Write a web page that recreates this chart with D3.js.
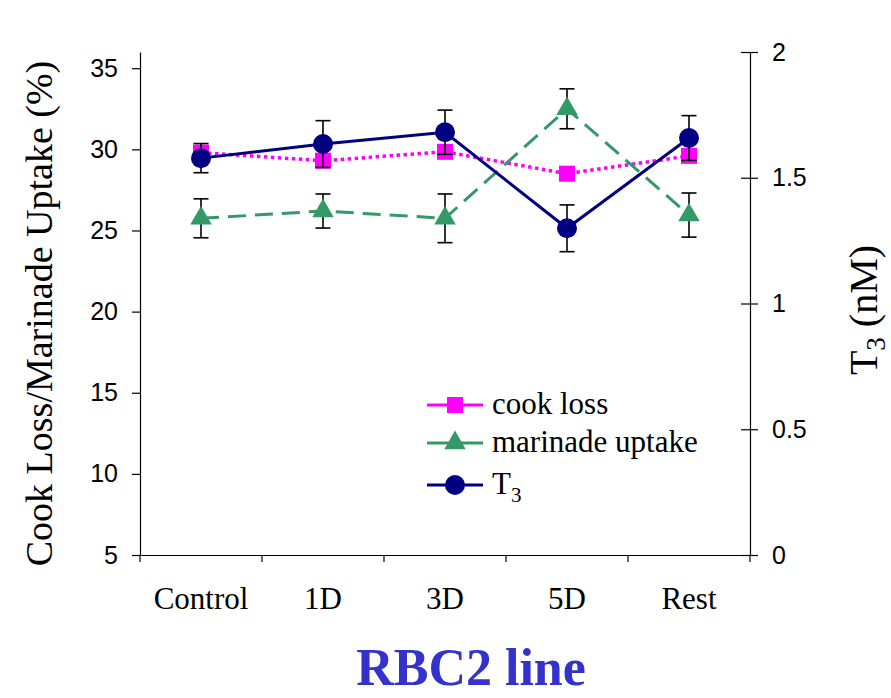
<!DOCTYPE html>
<html>
<head>
<meta charset="utf-8">
<script src="https://cdn.jsdelivr.net/npm/d3@7"></script>
<style>
  body { margin: 0; background: #fff; }
  svg { display: block; }
</style>
</head>
<body>
<svg id="chart"></svg>
<script>
// values
const categories = ['Control', '1D', '3D', '5D', 'Rest'];
const cookLoss = [29.8, 29.3, 29.85, 28.5, 29.6];
const marinade = [25.75, 26.2, 25.75, 32.5, 25.95];
const marinadeErr = [1.2, 1.05, 1.5, 1.23, 1.36];
const t3 = [1.578, 1.634, 1.681, 1.299, 1.658];
const t3Err = [0.058, 0.093, 0.088, 0.093, 0.089];
const leftTicks = [5, 10, 15, 20, 25, 30, 35];
const rightTicks = [0, 0.5, 1, 1.5, 2];

const width = 891, height = 698;
const margin = {top: 52, right: 141, bottom: 143, left: 140};

const svg = d3.select('#chart')
    .attr('width', width)
    .attr('height', height);

const innerW = width - margin.left - margin.right;
const innerH = height - margin.top - margin.bottom;

const chart = svg.append('g')
    .attr('transform', `translate(${margin.left}, ${margin.top})`);

const xscale = d3.scaleBand()
    .domain(categories)
    .range([0, innerW]);

const yleft = d3.scaleLinear()
    .domain([5, 36])
    .range([innerH, 0]);

const yright = d3.scaleLinear()
    .domain([0, 2])
    .range([innerH, 0]);

const cx = d => xscale(d) + xscale.bandwidth() / 2;

// axes
const leftAxis = chart.append('g')
    .call(d3.axisLeft(yleft).tickValues(leftTicks).tickSize(8).tickSizeOuter(0).tickPadding(14));

const rightAxis = chart.append('g')
    .attr('transform', `translate(${innerW}, 0)`)
    .call(d3.axisRight(yright).tickValues(rightTicks).tickSize(8).tickSizeOuter(0).tickPadding(14)
        .tickFormat(d => d));
rightAxis.selectAll('.tick line').attr('x1', -9).attr('x2', 8);

const bottomAxis = chart.append('g')
    .attr('transform', `translate(0, ${innerH})`)
    .call(d3.axisBottom(xscale).tickSize(0).tickSizeOuter(0).tickPadding(32));

// tick marks between the categories
const bounds = categories.map(c => xscale(c)).concat([xscale.range()[1]]);
bottomAxis.selectAll('.sep')
    .data(bounds)
    .join('line')
    .attr('class', 'sep')
    .attr('x1', d => d).attr('x2', d => d)
    .attr('y1', 0).attr('y2', 7)
    .attr('stroke', '#000');

[leftAxis, rightAxis, bottomAxis].forEach(g => {
    g.selectAll('path, line').attr('stroke', '#000').attr('stroke-width', 1.2);
});
leftAxis.selectAll('text').style('font-family', 'Liberation Sans, Arial, sans-serif').style('font-size', '25px').attr('fill', '#000');
rightAxis.selectAll('text').style('font-family', 'Liberation Sans, Arial, sans-serif').style('font-size', '25px').attr('fill', '#000');
bottomAxis.selectAll('text').style('font-family', 'Liberation Serif, Times New Roman, serif').style('font-size', '31px').attr('fill', '#000');

// marker helpers
const triangle = d3.symbol().type(d3.symbolTriangle).size(200);

function errorBars(values, errs, yscale) {
    const g = chart.append('g');
    const cap = 7.5;
    values.forEach((v, i) => {
        const x = cx(categories[i]);
        const y1 = yscale(v + errs[i]), y2 = yscale(v - errs[i]);
        g.append('line').attr('x1', x).attr('x2', x).attr('y1', y1).attr('y2', y2);
        g.append('line').attr('x1', x - cap).attr('x2', x + cap).attr('y1', y1).attr('y2', y1);
        g.append('line').attr('x1', x - cap).attr('x2', x + cap).attr('y1', y2).attr('y2', y2);
    });
    g.selectAll('line').attr('stroke', '#000').attr('stroke-width', 1.6);
}

// cook loss
const lineL = d3.line().x((d, i) => cx(categories[i])).y(d => yleft(d));
chart.append('path')
    .datum(cookLoss)
    .attr('d', lineL)
    .attr('fill', 'none')
    .attr('stroke', '#ff00ff')
    .attr('stroke-width', 3.5)
    .attr('stroke-dasharray', '3.5,3.5');
chart.selectAll('.sq')
    .data(cookLoss)
    .join('rect')
    .attr('class', 'sq')
    .attr('x', (d, i) => cx(categories[i]) - 8)
    .attr('y', d => yleft(d) - 8)
    .attr('width', 16).attr('height', 16)
    .attr('fill', '#ff00ff');

// marinade uptake
chart.append('path')
    .datum(marinade)
    .attr('d', lineL)
    .attr('fill', 'none')
    .attr('stroke', '#339966')
    .attr('stroke-width', 3)
    .attr('stroke-dasharray', '18,9');
errorBars(marinade, marinadeErr, yleft);
chart.selectAll('.tri')
    .data(marinade)
    .join('path')
    .attr('class', 'tri')
    .attr('d', triangle)
    .attr('transform', (d, i) => `translate(${cx(categories[i])}, ${yleft(d)})`)
    .attr('fill', '#339966');

// T3
const lineR = d3.line().x((d, i) => cx(categories[i])).y(d => yright(d));
chart.append('path')
    .datum(t3)
    .attr('d', lineR)
    .attr('fill', 'none')
    .attr('stroke', '#000080')
    .attr('stroke-width', 3);
errorBars(t3, t3Err, yright);
chart.selectAll('.dot')
    .data(t3)
    .join('circle')
    .attr('class', 'dot')
    .attr('cx', (d, i) => cx(categories[i]))
    .attr('cy', d => yright(d))
    .attr('r', 10)
    .attr('fill', '#000080');

// legend
const legend = svg.append('g').attr('transform', 'translate(427, 405)');
const items = [
    {name: 'cook loss', color: '#ff00ff', shape: 'square', dy: 0},
    {name: 'marinade uptake', color: '#339966', shape: 'triangle', dy: 38},
    {name: 'T', sub: '3', color: '#000080', shape: 'circle', dy: 80}
];
items.forEach(it => {
    const g = legend.append('g').attr('transform', `translate(0, ${it.dy})`);
    g.append('line').attr('x1', 0).attr('x2', 56).attr('y1', 0).attr('y2', 0)
        .attr('stroke', it.color).attr('stroke-width', 3);
    if (it.shape === 'square') {
        g.append('rect').attr('x', 20).attr('y', -8).attr('width', 16).attr('height', 16).attr('fill', it.color);
    } else if (it.shape === 'triangle') {
        g.append('path').attr('d', triangle).attr('transform', 'translate(28, 0)').attr('fill', it.color);
    } else {
        g.append('circle').attr('cx', 28).attr('cy', 0).attr('r', 10).attr('fill', it.color);
    }
    const t = g.append('text')
        .attr('x', 65).attr('y', 9)
        .style('font-family', 'Liberation Serif, Times New Roman, serif')
        .style('font-size', '31px')
        .text(it.name);
    if (it.sub) {
        t.append('tspan').attr('dy', 8).style('font-size', '21px').text(it.sub);
    }
});

// axis titles
svg.append('text')
    .attr('transform', `translate(52, ${margin.top + innerH / 2 + 10}) rotate(-90)`)
    .attr('text-anchor', 'middle')
    .style('font-family', 'Liberation Serif, Times New Roman, serif')
    .style('font-size', '38px')
    .text('Cook Loss/Marinade Uptake (%)');

const rt = svg.append('text')
    .attr('transform', `translate(877, 310) rotate(-90)`)
    .attr('text-anchor', 'middle')
    .style('font-family', 'Liberation Serif, Times New Roman, serif')
    .style('font-size', '40px');
rt.append('tspan').text('T');
rt.append('tspan').attr('dy', 8).style('font-size', '27px').text('3');
rt.append('tspan').attr('dy', -8).text(' (nM)');

// title
svg.append('text')
    .attr('x', 471)
    .attr('y', 685)
    .attr('text-anchor', 'middle')
    .style('font-family', 'Liberation Serif, Times New Roman, serif')
    .style('font-weight', 'bold')
    .style('font-size', '52px')
    .attr('fill', '#3333cc')
    .text('RBC2 line');
</script>
</body>
</html>
